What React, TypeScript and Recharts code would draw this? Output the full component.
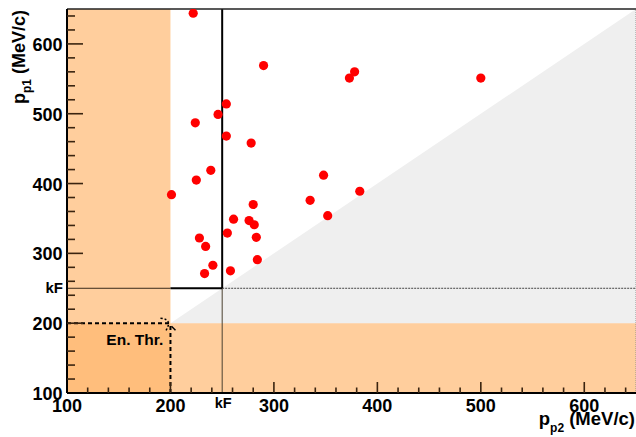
import { ComposedChart, Scatter, Area, XAxis, YAxis, ReferenceArea, ReferenceLine, ReferenceDot } from "recharts"

// measured proton momenta (MeV/c)
const pP2 = [222, 290, 254, 246, 224, 254, 278, 239, 225, 201, 378, 373, 500, 348, 383, 335, 352, 280, 261, 276, 281, 255, 283, 228, 234, 284, 241, 258, 233]
const pP1 = [644, 569, 514, 499, 487, 468, 458, 419, 405, 384, 560, 551, 551, 412, 389, 376, 354, 370, 349, 347, 341, 329, 323, 322, 310, 291, 283, 275, 271]

const kF = 250
const enThr = 200
const axisMin = 100
const axisMax = 650

const majorTicks = [100, 200, 300, 400, 500, 600]
const minorTicks = [120, 140, 160, 180, 220, 240, 260, 280, 320, 340, 360, 380, 420, 440, 460, 480, 520, 540, 560, 580, 620, 640]

const diagX = [enThr, axisMax]
const diagY = [enThr, axisMax]

const points = pP2.map((x, i) => ({ x, y: pP1[i] }))
const diag = diagX.map((x, i) => ({ x, y: diagY[i] }))
const labelTicks = [...majorTicks, kF]
const markTicks = [...majorTicks.slice(1), ...minorTicks]

const font = "Liberation Sans, Arial, Helvetica, sans-serif"
const tickColor = "#3a2410"

const XTick = (props: any) => {
    const { x, y, payload } = props
    const v = payload.value
    if (v === kF) {
        return (
            <text x={x + 1} y={y + 14.5} textAnchor="middle" fontFamily={font} fontWeight="bold" fontSize={14.5} fill="#000">kF</text>
        )
    }
    return (
        <text x={x} y={y + 18.5} textAnchor="middle" fontFamily={font} fontWeight="bold" fontSize={18} fill="#000">{v}</text>
    )
}

const YTick = (props: any) => {
    const { x, y, payload } = props
    const v = payload.value
    if (v === kF) {
        return (
            <text x={x - 4} y={y + 5} textAnchor="end" fontFamily={font} fontWeight="bold" fontSize={15} fill="#000">kF</text>
        )
    }
    return (
        <text x={x - 4.5} y={y + 7} textAnchor="end" fontFamily={font} fontWeight="bold" fontSize={18} fill="#000">{v}</text>
    )
}

// tick marks inside the frame, ROOT style
const XMark = (props: any) => {
    const { cx, cy, major } = props
    return <path d={`M ${cx} ${cy} L ${cx} ${cy - (major ? 11 : 5.5)}`} stroke={tickColor} strokeWidth={1.6} fill="none" />
}

const YMark = (props: any) => {
    const { cx, cy, major } = props
    return <path d={`M ${cx} ${cy} L ${cx + (major ? 16 : 8)} ${cy}`} stroke={tickColor} strokeWidth={1.6} fill="none" />
}

const YTitle = (props: any) => {
    const vb = props.viewBox || { x: 0, y: 9 }
    const cx = vb.x + 25
    const cy = vb.y + 1
    return (
        <text transform={`translate(${cx},${cy}) rotate(-90)`} textAnchor="end" fontFamily={font} fontWeight="bold" fontSize={18} fill="#000">
            p<tspan fontSize={12} dy={6}>p1</tspan><tspan dy={-6}> (MeV/c)</tspan>
        </text>
    )
}

const XTitle = (props: any) => {
    const vb = props.viewBox || { x: 67, y: 393, width: 569 }
    return (
        <text x={vb.x + vb.width - 1} y={vb.y + 32} textAnchor="end" fontFamily={font} fontWeight="bold" fontSize={18.5} fill="#000">
            p<tspan fontSize={12} dy={7}>p2</tspan><tspan dy={-7}> (MeV/c)</tspan>
        </text>
    )
}

const Curl = (props: any) => {
    const { cx, cy } = props
    return (
        <g fill="none" stroke="#000" strokeWidth={1.5}>
            <path d={`M ${cx - 10} ${cy - 5} Q ${cx + 3} ${cy - 4} ${cx - 5} ${cy + 8}`} strokeDasharray="2 2" />
            <path d={`M ${cx + 1} ${cy + 3} L ${cx + 5} ${cy + 7}`} />
        </g>
    )
}

const ThrLabel = (props: any) => {
    const { cx, cy } = props
    return (
        <text x={cx} y={cy} textAnchor="end" fontFamily={font} fontWeight="bold" fontSize={15.5} fill="#000">En. Thr.</text>
    )
}

const Dot = (props: any) => <circle cx={props.cx} cy={props.cy} r={4.6} fill="#ff0000" />

const App = () => {
    return (
        <div style={{ position: "absolute", left: 0, top: 0, width: 636, height: 437, background: "#fff" }}>
            <ComposedChart width={636} height={437} margin={{ top: 9, right: 0, bottom: 0, left: 0 }}>
                <XAxis
                    type="number"
                    dataKey="x"
                    domain={[axisMin, axisMax]}
                    ticks={labelTicks}
                    interval={0}
                    tickSize={0}
                    tickMargin={0}
                    tickLine={false}
                    tick={<XTick />}
                    axisLine={{ stroke: "#000", strokeWidth: 2 }}
                    height={44}
                    allowDataOverflow
                    label={{ content: <XTitle /> }}
                />
                <YAxis
                    type="number"
                    dataKey="y"
                    domain={[axisMin, axisMax]}
                    ticks={labelTicks}
                    interval={0}
                    tickSize={0}
                    tickMargin={0}
                    tickLine={false}
                    tick={<YTick />}
                    axisLine={{ stroke: "#000", strokeWidth: 2 }}
                    width={67}
                    allowDataOverflow
                    label={{ content: <YTitle /> }}
                />
                <Area
                    data={diag}
                    dataKey="y"
                    type="linear"
                    baseValue={enThr}
                    fill="#efefef"
                    fillOpacity={1}
                    stroke="none"
                    isAnimationActive={false}
                />
                <ReferenceArea x1={axisMin} x2={enThr} y1={axisMin} y2={axisMax} fill="#ff9933" fillOpacity={0.48} stroke="none" />
                <ReferenceArea x1={enThr} x2={axisMax} y1={axisMin} y2={enThr} fill="#ff9933" fillOpacity={0.48} stroke="none" />
                <ReferenceArea x1={axisMin} x2={enThr} y1={axisMin} y2={enThr} fill="#ff9933" fillOpacity={0.3} stroke="none" />

                <ReferenceLine segment={[{ x: axisMin, y: kF }, { x: enThr, y: kF }]} stroke="#3a2a1a" strokeWidth={1} />
                <ReferenceLine segment={[{ x: kF, y: kF }, { x: axisMax, y: kF }]} stroke="#444" strokeWidth={1} strokeDasharray="2 1" />
                <ReferenceLine segment={[{ x: kF, y: axisMin }, { x: kF, y: kF }]} stroke="#4a4030" strokeWidth={1} />
                <ReferenceLine segment={[{ x: enThr, y: kF }, { x: kF, y: kF }]} stroke="#000" strokeWidth={2} />
                <ReferenceLine segment={[{ x: kF, y: kF }, { x: kF, y: axisMax }]} stroke="#000" strokeWidth={2} />

                {markTicks.map((v) => (
                    <ReferenceDot key={`xm${v}`} x={v} y={axisMin} r={1} ifOverflow="visible" shape={<XMark major={majorTicks.includes(v)} />} />
                ))}
                {markTicks.map((v) => (
                    <ReferenceDot key={`ym${v}`} x={axisMin} y={v} r={1} ifOverflow="visible" shape={<YMark major={majorTicks.includes(v)} />} />
                ))}

                <ReferenceLine segment={[{ x: axisMin, y: enThr }, { x: enThr, y: enThr }]} stroke="#000" strokeWidth={2} strokeDasharray="4 3" />
                <ReferenceLine segment={[{ x: enThr, y: axisMin }, { x: enThr, y: enThr }]} stroke="#000" strokeWidth={2} strokeDasharray="4 3" />
                <ReferenceDot x={enThr} y={enThr} r={0} shape={<Curl />} />
                <ReferenceDot x={193} y={169} r={0} shape={<ThrLabel />} />

                <ReferenceLine y={axisMax} stroke="#222" strokeWidth={1.5} />
                <ReferenceLine x={axisMax} stroke="#888" strokeWidth={1} strokeDasharray="1 1" />

                <Scatter data={points} dataKey="y" shape={<Dot />} isAnimationActive={false} />
            </ComposedChart>
        </div>
    )
}

export default App
